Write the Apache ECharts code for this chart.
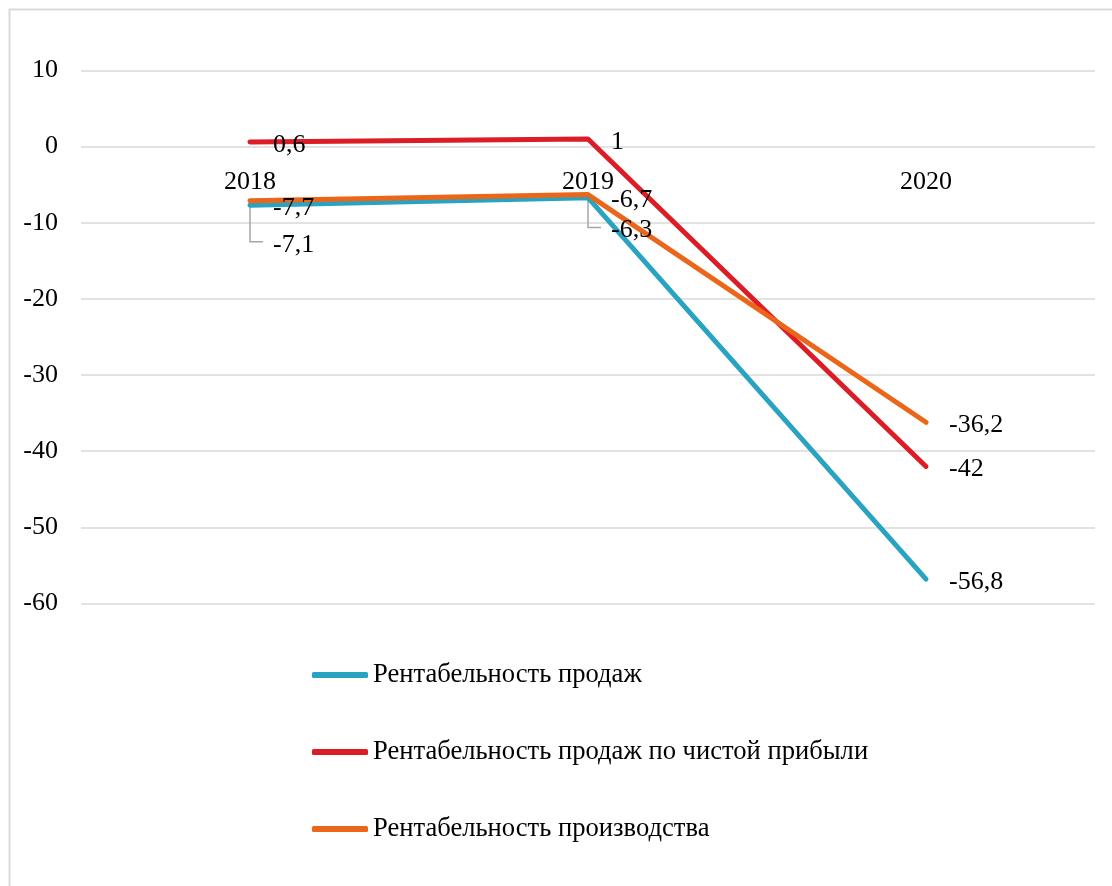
<!DOCTYPE html>
<html>
<head>
<meta charset="utf-8">
<script src="https://cdn.jsdelivr.net/npm/echarts@6/dist/echarts.min.js"></script>
<style>
  html, body { margin: 0; padding: 0; background: #fff; }
  #chart { width: 1112px; height: 886px; }
</style>
</head>
<body>
<div id="chart"></div>
<script>
// Years on the category axis
const years = ['2018', '2019', '2020'];

// Profitability indicators, %
const salesProfitability = [-7.7, -6.7, -56.8];      // Рентабельность продаж
const netProfitMargin = [0.6, 1, -42];               // Рентабельность продаж по чистой прибыли
const productionProfitability = [-7.1, -6.3, -36.2]; // Рентабельность производства

const seriesNames = [
  'Рентабельность продаж',
  'Рентабельность продаж по чистой прибыли',
  'Рентабельность производства'
];

// Value axis ticks
const yMin = -60, yMax = 10, yStep = 10;

const FONT = '"Liberation Serif", "Times New Roman", serif';
const COLORS = ['#28A3C1', '#DC1D26', '#EC661A'];

// Labels of the production series that are pushed below their points
// (vertical shift in px), joined to the point by a leader line
const pushedLabels = { 0: 44, 1: 36 };

function fmt(v) { return String(v).replace('.', ','); }

const baseLabel = {
  show: true,
  position: 'right',
  distance: 22,
  offset: [0, 3],
  color: '#000',
  fontFamily: FONT,
  fontSize: 26,
  formatter: p => fmt(p.value)
};

function lineSeries(name, values, color, labelOverrides) {
  return {
    name: name,
    type: 'line',
    data: values.map((v, i) => {
      const item = { value: v };
      if (labelOverrides && labelOverrides[i] !== undefined) {
        item.label = { offset: [0, labelOverrides[i]] };
      }
      return item;
    }),
    symbol: 'circle',
    symbolSize: 2,
    showSymbol: true,
    itemStyle: { color: color },
    lineStyle: { color: color, width: 5, cap: 'round', join: 'round' },
    label: baseLabel,
    emphasis: { disabled: true },
    animation: false
  };
}

const chart = echarts.init(document.getElementById('chart'));

chart.setOption({
  backgroundColor: '#fff',
  animation: false,
  graphic: [{
    type: 'rect',
    z: -10,
    shape: { x: 9.5, y: 9.5, width: 1110, height: 880 },
    style: { fill: 'none', stroke: '#d9d9d9', lineWidth: 2 }
  }],
  grid: { left: 81, right: 17, top: 70.5, bottom: 282.5, containLabel: false },
  legend: {
    orient: 'vertical',
    left: 307,
    top: 655,
    itemWidth: 56,
    itemHeight: 6,
    itemGap: 47,
    icon: 'roundRect',
    selectedMode: false,
    data: seriesNames,
    textStyle: { color: '#000', fontFamily: FONT, fontSize: 26.6, lineHeight: 30 }
  },
  xAxis: {
    type: 'category',
    data: years,
    position: 'bottom',
    boundaryGap: true,
    axisLine: { show: false },
    axisTick: { show: false },
    axisLabel: { color: '#000', fontFamily: FONT, fontSize: 26, margin: 23 },
    splitLine: { show: false }
  },
  yAxis: {
    type: 'value',
    min: yMin,
    max: yMax,
    interval: yStep,
    axisLine: { show: false },
    axisTick: { show: false },
    axisLabel: { color: '#000', fontFamily: FONT, fontSize: 26, margin: 23 },
    splitLine: { lineStyle: { color: '#d9d9d9', width: 1.5 } }
  },
  series: [
    lineSeries(seriesNames[0], salesProfitability, COLORS[0]),
    lineSeries(seriesNames[1], netProfitMargin, COLORS[1]),
    lineSeries(seriesNames[2], productionProfitability, COLORS[2], pushedLabels),
    {
      // leader lines for the shifted labels
      type: 'custom',
      silent: true,
      z: 1,
      data: Object.keys(pushedLabels).map(k => [Number(k), productionProfitability[k]]),
      renderItem: function (params, api) {
        const idx = api.value(0);
        const p = api.coord([idx, api.value(1)]);
        const dy = pushedLabels[idx] - 3;
        return {
          type: 'polyline',
          shape: { points: [[p[0], p[1] + 3], [p[0], p[1] + dy], [p[0] + 13, p[1] + dy]] },
          style: { stroke: '#a6a6a6', lineWidth: 1.5, fill: 'none' }
        };
      },
      animation: false
    }
  ]
});

// The category axis crosses the value axis at zero: lift it from the
// bottom edge of the grid up to the zero line.
const zeroY = chart.convertToPixel({ yAxisIndex: 0 }, 0);
const bottomY = chart.convertToPixel({ yAxisIndex: 0 }, yMin);
chart.setOption({ xAxis: { offset: -(bottomY - zeroY) } });
</script>
</body>
</html>
